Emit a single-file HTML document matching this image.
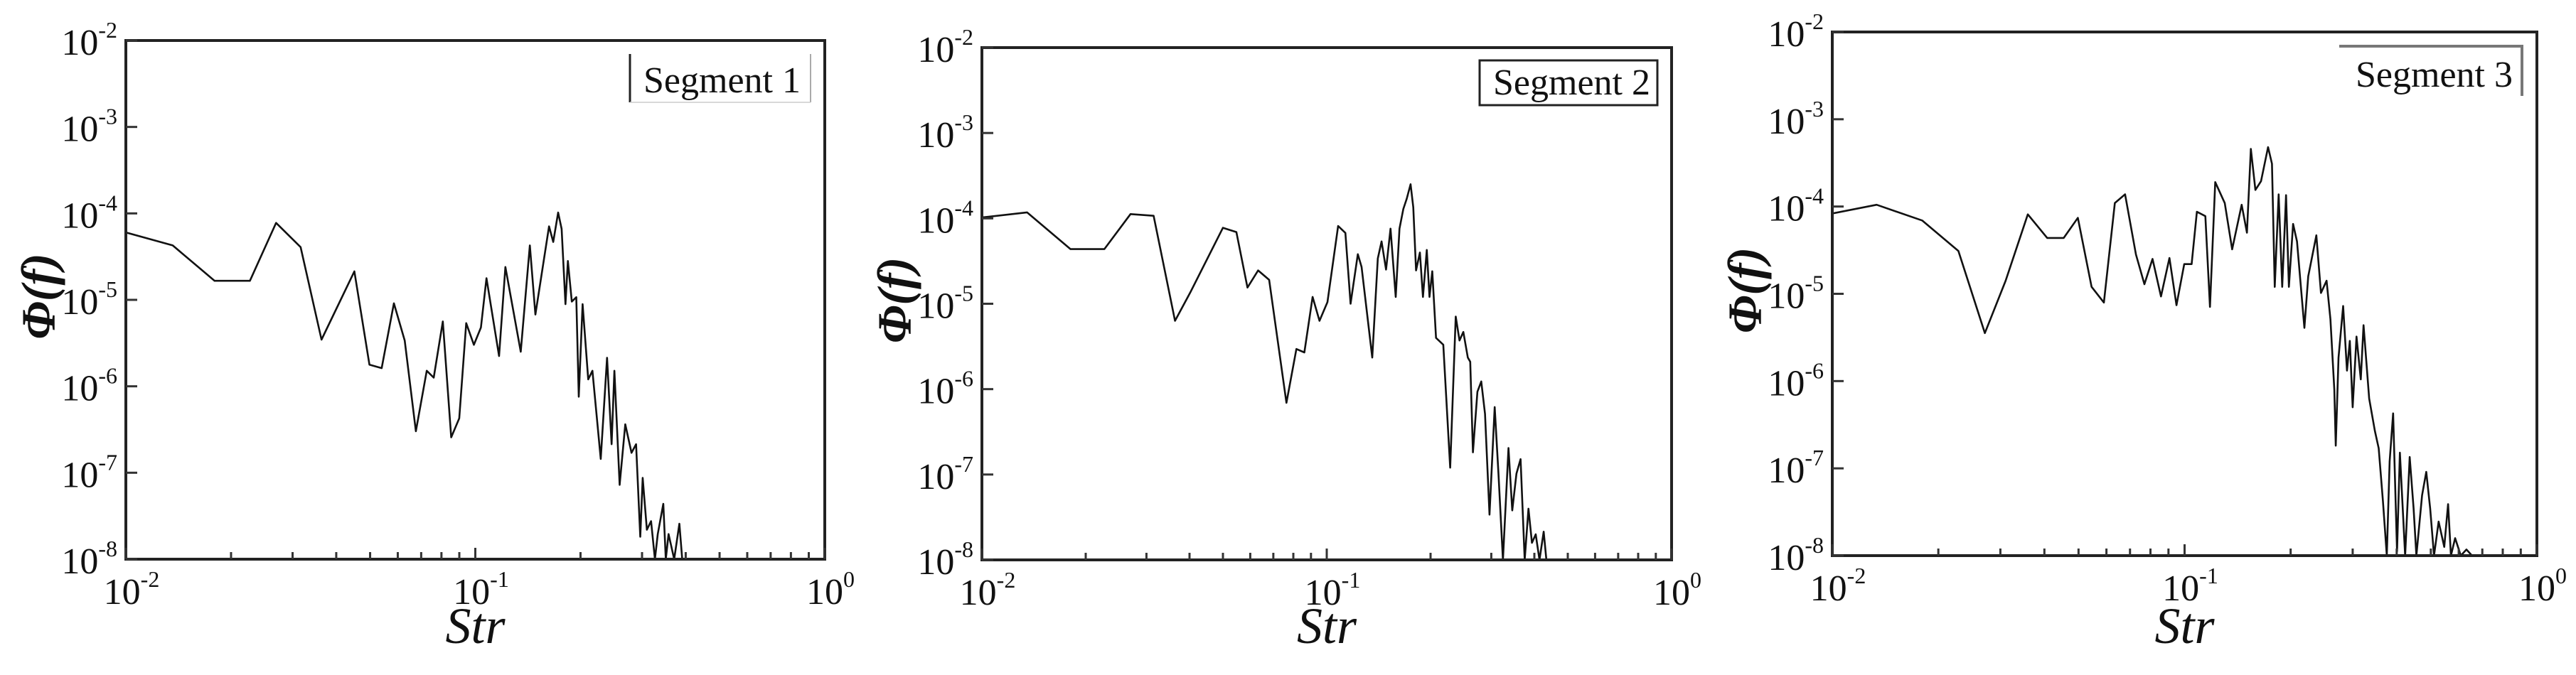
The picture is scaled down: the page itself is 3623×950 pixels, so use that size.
<!DOCTYPE html>
<html><head><meta charset="utf-8"><style>
html,body{margin:0;padding:0;background:#fff;}
svg{display:block;}
text{font-family:"Liberation Serif",serif;fill:#111;}
</style></head><body>
<svg id="chart" width="3623" height="950" viewBox="0 0 3623 950" xmlns="http://www.w3.org/2000/svg"></svg>
<script>
// Data: log10(Str) and log10(Phi)
const seg1LogStr=[-2,-1.866,-1.746,-1.645,-1.57,-1.5,-1.44,-1.346,-1.303,-1.268,-1.233,-1.202,-1.17,-1.139,-1.119,-1.093,-1.069,-1.046,-1.026,-1.004,-0.984,-0.968,-0.932,-0.914,-0.87,-0.844,-0.828,-0.789,-0.777,-0.763,-0.753,-0.742,-0.735,-0.724,-0.711,-0.704,-0.693,-0.677,-0.665,-0.641,-0.623,-0.61,-0.602,-0.587,-0.571,-0.553,-0.54,-0.528,-0.521,-0.509,-0.497,-0.486,-0.478,-0.462,-0.455,-0.447,-0.431,-0.416,-0.408];
const seg1LogPhi=[-4.22,-4.37,-4.78,-4.78,-4.11,-4.39,-5.46,-4.67,-5.75,-5.79,-5.04,-5.47,-6.52,-5.82,-5.9,-5.25,-6.59,-6.37,-5.27,-5.52,-5.32,-4.75,-5.65,-4.62,-5.6,-4.37,-5.17,-4.15,-4.33,-3.99,-4.18,-5.05,-4.55,-5.02,-4.97,-6.12,-5.05,-5.92,-5.82,-6.84,-5.67,-6.67,-5.82,-7.14,-6.44,-6.77,-6.67,-7.74,-7.06,-7.66,-7.56,-8,-7.71,-7.36,-8,-7.71,-8,-7.59,-8];
const seg2LogStr=[-2,-1.869,-1.743,-1.645,-1.569,-1.502,-1.44,-1.396,-1.301,-1.262,-1.23,-1.199,-1.167,-1.117,-1.088,-1.065,-1.041,-1.021,-0.998,-0.967,-0.946,-0.931,-0.91,-0.899,-0.868,-0.852,-0.841,-0.828,-0.815,-0.8,-0.789,-0.778,-0.768,-0.757,-0.749,-0.741,-0.73,-0.721,-0.71,-0.702,-0.694,-0.683,-0.662,-0.642,-0.626,-0.615,-0.604,-0.591,-0.584,-0.576,-0.563,-0.552,-0.541,-0.528,-0.513,-0.502,-0.489,-0.473,-0.462,-0.45,-0.438,-0.426,-0.415,-0.405,-0.394,-0.383,-0.371,-0.363];
const seg2LogPhi=[-3.99,-3.93,-4.36,-4.36,-3.95,-3.97,-5.2,-4.87,-4.11,-4.16,-4.81,-4.61,-4.72,-6.16,-5.53,-5.57,-4.92,-5.2,-4.98,-4.09,-4.17,-5,-4.42,-4.57,-5.63,-4.47,-4.27,-4.6,-4.12,-4.92,-4.12,-3.89,-3.77,-3.6,-3.87,-4.61,-4.4,-4.92,-4.37,-4.92,-4.62,-5.4,-5.48,-6.92,-5.15,-5.43,-5.33,-5.63,-5.68,-6.74,-6.03,-5.91,-6.29,-7.47,-6.21,-6.99,-8,-6.69,-7.42,-6.99,-6.82,-8,-7.4,-7.8,-7.7,-8,-7.67,-8];
const seg3LogStr=[-2,-1.874,-1.745,-1.642,-1.567,-1.508,-1.445,-1.39,-1.343,-1.303,-1.264,-1.229,-1.198,-1.169,-1.138,-1.114,-1.091,-1.067,-1.043,-1.023,-1.001,-0.98,-0.965,-0.941,-0.928,-0.913,-0.886,-0.865,-0.838,-0.823,-0.812,-0.799,-0.783,-0.763,-0.752,-0.744,-0.733,-0.723,-0.712,-0.704,-0.692,-0.681,-0.66,-0.649,-0.626,-0.613,-0.597,-0.586,-0.575,-0.571,-0.563,-0.55,-0.539,-0.531,-0.523,-0.512,-0.5,-0.492,-0.476,-0.46,-0.449,-0.437,-0.426,-0.418,-0.408,-0.397,-0.389,-0.374,-0.361,-0.35,-0.342,-0.326,-0.314,-0.303,-0.292,-0.279,-0.263,-0.252,-0.244,-0.232,-0.216,-0.2,-0.184];
const seg3LogPhi=[-4.08,-3.98,-4.16,-4.51,-5.45,-4.85,-4.09,-4.36,-4.36,-4.13,-4.92,-5.1,-3.96,-3.86,-4.55,-4.89,-4.6,-5.03,-4.59,-5.13,-4.66,-4.66,-4.06,-4.11,-5.15,-3.72,-3.96,-4.49,-3.98,-4.3,-3.34,-3.81,-3.71,-3.32,-3.51,-4.92,-3.86,-4.92,-3.87,-4.92,-4.2,-4.4,-5.39,-4.8,-4.33,-4.99,-4.85,-5.29,-6.1,-6.74,-5.73,-5.14,-5.88,-5.54,-6.3,-5.49,-5.98,-5.36,-6.2,-6.57,-6.77,-7.38,-8,-6.92,-6.37,-7.95,-6.82,-8,-6.87,-7.46,-8,-7.31,-7.04,-7.46,-8,-7.61,-7.9,-7.41,-8,-7.8,-8,-7.93,-8];
const yTickExps=[-2,-3,-4,-5,-6,-7,-8];
const xTickExps=[-2,-1,0];
const legendLabels=["Segment 1","Segment 2","Segment 3"];

const NS="http://www.w3.org/2000/svg";
const svg=document.getElementById('chart');
function mk(tag,attrs,parent){const e=document.createElementNS(NS,tag);for(const k in attrs)e.setAttribute(k,attrs[k]);(parent||svg).appendChild(e);return e;}

const panels=[
 {L:177,R:1160,T:57,B:787,xs:seg1LogStr,ys:seg1LogPhi,leg:{type:1,x1:886,x2:1140,y1:76,y2:144,tx:905,ty:130}},
 {L:1381,R:2351,T:67,B:788,xs:seg2LogStr,ys:seg2LogPhi,leg:{type:2,x1:2081,x2:2331,y1:85,y2:148,tx:2100,ty:133}},
 {L:2577,R:3568,T:45,B:782,xs:seg3LogStr,ys:seg3LogPhi,leg:{type:3,x1:3290,x2:3547,y1:65,y2:135,tx:3313,ty:122}}
];

panels.forEach((p,i)=>{
  const g=mk('g',{});
  
  
  const xS=v=>p.L+(v-(-2))/2*(p.R-p.L);
  const yS=v=>p.T+(-2-v)/6*(p.B-p.T);
  const cp=mk('clipPath',{id:'clip'+i},g);
  mk('rect',{x:p.L,y:p.T,width:p.R-p.L,height:p.B-p.T},cp);
  // series
  let d='';
  for(let k=0;k<p.xs.length;k++){d+=(k?'L':'M')+xS(p.xs[k]).toFixed(1)+','+yS(p.ys[k]).toFixed(1);}
  const line=mk('path',{d:d,fill:'none',stroke:'#111','stroke-width':2.6,'stroke-linejoin':'round','clip-path':'url(#clip'+i+')'},g);
  
  
  // frame
  const fr=mk('rect',{x:p.L,y:p.T,width:p.R-p.L,height:p.B-p.T,fill:'none',stroke:'#222','stroke-width':4},g);
  
  
  // y ticks
  yTickExps.forEach(e=>{
    const y=yS(e);
    mk('line',{x1:p.L,x2:p.L+16,y1:y,y2:y,stroke:'#333','stroke-width':3},g);
    const t=mk('text',{x:p.L-12,y:y+20,'text-anchor':'end','font-size':52},g);
    
    
    t.textContent='10';
    const s=mk('tspan',{dy:-24,'font-size':32},t);s.textContent=String(e);
  });
  // x ticks
  for(let dec=-2;dec<0;dec++){
    for(let m=2;m<=9;m++){
      const x=xS(dec+Math.log10(m));
      mk('line',{x1:x,x2:x,y1:p.B,y2:p.B-10,stroke:'#333','stroke-width':3},g);
    }
  }
  xTickExps.forEach(e=>{
    const x=xS(e);
    mk('line',{x1:x,x2:x,y1:p.B,y2:p.B-16,stroke:'#333','stroke-width':3},g);
    const t=mk('text',{x:x+8,y:p.B+63,'text-anchor':'middle','font-size':52},g);
    
    
    t.textContent='10';
    const s=mk('tspan',{dy:-24,'font-size':32},t);s.textContent=String(e);
  });
  // axis titles
  const xt=mk('text',{x:(p.L+p.R)/2,y:905,'text-anchor':'middle','font-size':72,'font-style':'italic'},g);
  
  
  xt.textContent='Str';
  const yt=mk('text',{x:0,y:0,'text-anchor':'middle','font-size':68,'font-style':'italic','font-weight':'bold',transform:'translate(78,'+((p.T+p.B)/2-5)+') rotate(-90)'},g);
  
  
  yt.setAttribute('x',p.L-100+0);
  yt.setAttribute('transform','translate('+(p.L-100)+','+((p.T+p.B)/2-5)+') rotate(-90)');
  yt.setAttribute('x',0);
  yt.textContent='\u03A6(f)';
  // legend
  const lg=mk('g',{},g);
  
  
  const L=p.leg;
  if(L.type===1){
    mk('line',{x1:L.x1,x2:L.x1,y1:L.y1,y2:L.y2,stroke:'#222','stroke-width':3},lg);
    mk('line',{x1:L.x2,x2:L.x2,y1:L.y1,y2:L.y2,stroke:'#aaa','stroke-width':2},lg);
    mk('line',{x1:L.x1,x2:L.x2,y1:L.y2,y2:L.y2,stroke:'#ccc','stroke-width':1.5},lg);
  }else if(L.type===2){
    mk('rect',{x:L.x1,y:L.y1,width:L.x2-L.x1,height:L.y2-L.y1,fill:'none',stroke:'#222','stroke-width':3},lg);
  }else{
    mk('polyline',{points:L.x1+','+L.y1+' '+L.x2+','+L.y1+' '+L.x2+','+L.y2,fill:'none',stroke:'#777','stroke-width':4},lg);
  }
  const lt=mk('text',{x:L.tx,y:L.ty,'font-size':52},lg);
  
  
  lt.textContent=legendLabels[i];
});
</script>
</body></html>
